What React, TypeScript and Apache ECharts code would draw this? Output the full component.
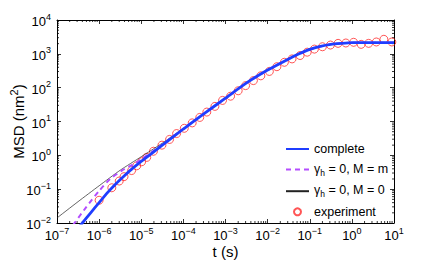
import { useEffect, useRef } from "react";
import * as echarts from "echarts";

// Experiment (red circles)
const expT = [1.0e-6, 2.0e-6, 3.0e-6, 3.9e-6, 5.9e-6, 7.8e-6, 1.02e-5, 1.35e-5, 1.95e-5, 3.1e-5, 4.7e-5, 6.9e-5, 1.05e-4, 1.62e-4, 2.45e-4, 3.6e-4, 5.6e-4, 8.5e-4, 1.32e-3, 2.0e-3, 3.0e-3, 4.6e-3, 6.9e-3, 0.011, 0.0166, 0.025, 0.038, 0.059, 0.087, 0.129, 0.2, 0.31, 0.47, 0.72, 1.1, 1.66, 2.5, 3.8, 5.75, 8.9];
const expMSD = [0.047, 0.11, 0.174, 0.234, 0.355, 0.49, 0.645, 0.87, 1.32, 2.0, 2.95, 4.4, 6.3, 9.1, 13.2, 19, 28, 42, 56, 81, 115, 162, 224, 302, 417, 562, 708, 891, 1120, 1380, 1620, 1820, 2040, 2090, 2190, 1905, 2040, 2240, 2690, 2240];

// Common long-time part of all three model curves
const tailT = [3.16e-4, 1e-3, 3.16e-3, 0.01, 0.0316, 0.056, 0.1, 0.178, 0.316, 0.56, 1, 3.16, 10];
const tailMSD = [17.4, 49, 138, 331, 708, 1000, 1350, 1660, 1905, 2040, 2140, 2140, 2140];

// complete (blue) short-time part
const completeT = [3.55e-7, 6.3e-7, 1e-6, 1.58e-6, 2.51e-6, 3.98e-6, 6.3e-6, 1e-5, 3.16e-5, 1e-4];
const completeMSD = [0.0083, 0.02, 0.04, 0.079, 0.145, 0.25, 0.42, 0.66, 2.0, 6.0];

// gamma_h = 0, M = m (purple dashed) short-time part
const massT = [2.4e-7, 5.0e-7, 1e-6, 1.82e-6, 3.39e-6, 6.3e-6, 1e-5, 3.16e-5, 1e-4];
const massMSD = [0.0087, 0.03, 0.089, 0.2, 0.347, 0.537, 0.76, 2.09, 6.17];

// gamma_h = 0, M = 0 (black thin) short-time part
const freeT = [1e-7, 3.16e-7, 1e-6, 3.16e-6, 1e-5, 3.16e-5, 1e-4];
const freeMSD = [0.0141, 0.0427, 0.126, 0.363, 0.91, 2.29, 6.3];

const minorMantissas = [2, 3, 4, 5, 6, 7, 8, 9];
const xDecades = [1e-7, 1e-6, 1e-5, 1e-4, 1e-3, 1e-2, 1e-1, 1];
const yDecades = [1e-2, 1e-1, 1, 10, 100, 1000];

const FONT = "Liberation Sans, Arial, Helvetica, sans-serif";
const BLUE = "#1f3dff";
const PURPLE = "#b44dff";
const RED = "#ff2a2a";

const pair = (t: number[], v: number[]) => t.map((x, i) => [x, v[i]]);

const expLabel = (v: number) => {
  const e = Math.round(Math.log10(v));
  return `{b|10}{e|${e < 0 ? "−" + -e : e}}`;
};

const labelRich = {
  b: { fontSize: 13, verticalAlign: "bottom", fontFamily: FONT, color: "#000" },
  e: { fontSize: 9, verticalAlign: "bottom", padding: [0, 0, 7, 0], fontFamily: FONT, color: "#000" },
};

const hideSym = { color: "rgba(0,0,0,0)", borderWidth: 0, opacity: 0 };

export default function App() {
  const ref = useRef<HTMLDivElement>(null);
  useEffect(() => {
    const chart = echarts.init(ref.current!, null, { renderer: "svg" });
    const xMinor = xDecades.flatMap((d) => minorMantissas.map((m) => [m * d, 1]));
    const yMinor = yDecades.flatMap((d) => minorMantissas.map((m) => [1e-3, m * d]));
    const tickStyle = { stroke: "#000", lineWidth: 0.8 };
    const axisCommon = {
      axisLine: { show: true, lineStyle: { color: "#000", width: 1 } },
      axisTick: { show: true, inside: true, length: 4, lineStyle: { color: "#000", width: 0.8 } },
      splitLine: { show: false },
    };
    const option: any = {
      animation: false,
      backgroundColor: "#fff",
      grid: { left: 57, right: 42, top: 20, bottom: 39, containLabel: false, outerBoundsMode: "none" },
      xAxis: [
        {
          type: "log", logBase: 10, min: 1e-7, max: 10, splitNumber: 8, position: "bottom",
          ...axisCommon,
          axisLabel: { formatter: expLabel, margin: 3, rich: labelRich, color: "#000", fontSize: 13 },
          name: "t (s)", nameLocation: "middle", nameGap: 21, nameMoveOverlap: false,
          nameTextStyle: { fontSize: 15, color: "#000", fontFamily: FONT, verticalAlign: "top" },
        },
        {
          type: "log", logBase: 10, min: 1e-7, max: 10, splitNumber: 8, position: "top",
          ...axisCommon, axisLabel: { show: false },
        },
      ],
      yAxis: [
        {
          type: "log", logBase: 10, min: 0.01, max: 1e4, splitNumber: 6, position: "left",
          ...axisCommon,
          axisLabel: { formatter: expLabel, margin: 6, rich: labelRich, color: "#000", fontSize: 13 },
          name: "{a|MSD (nm}{s|2}{a|)}", nameLocation: "middle", nameGap: 31, nameMoveOverlap: false,
          nameTextStyle: {
            color: "#000", fontFamily: FONT, fontSize: 15,
            rich: {
              a: { fontSize: 15, verticalAlign: "bottom", fontFamily: FONT, color: "#000" },
              s: { fontSize: 11, verticalAlign: "bottom", padding: [0, 0, 7, 0], fontFamily: FONT, color: "#000" },
            },
          },
        },
        {
          type: "log", logBase: 10, min: 0.01, max: 1e4, splitNumber: 6, position: "right",
          ...axisCommon, axisLabel: { show: false },
        },
      ],
      legend: {
        orient: "vertical", left: 285, top: 142.5, padding: 0, itemWidth: 23, itemHeight: 7, itemGap: 6.6,
        data: [
          { name: "complete", itemStyle: hideSym },
          { name: "γh = 0, M = m", itemStyle: hideSym },
          { name: "γh = 0, M = 0", itemStyle: hideSym },
          { name: "experiment" },
        ],
        formatter: (name: string) =>
          name.startsWith("γh") ? `{t|γ}{s|h}{t|${name.slice(2)}}` : `{t|${name}}`,
        textStyle: {
          color: "#000", fontSize: 12.5, fontFamily: FONT,
          rich: {
            t: { fontSize: 12.5, verticalAlign: "top", fontFamily: FONT, color: "#000" },
            s: { fontSize: 8.5, verticalAlign: "top", padding: [6, 0, 0, 0], fontFamily: FONT, color: "#000" },
          },
        },
      },
      series: [
        {
          type: "custom", name: "xminor", silent: true, clip: false, xAxisIndex: 0, yAxisIndex: 0,
          data: xMinor,
          renderItem: (params: any, api: any) => {
            const x = api.coord([api.value(0), 1])[0];
            const cs = params.coordSys;
            return {
              type: "group",
              children: [
                { type: "line", shape: { x1: x, y1: cs.y + cs.height, x2: x, y2: cs.y + cs.height - 2 }, style: tickStyle },
                { type: "line", shape: { x1: x, y1: cs.y, x2: x, y2: cs.y + 2 }, style: tickStyle },
              ],
            };
          },
        },
        {
          type: "custom", name: "yminor", silent: true, clip: false, xAxisIndex: 0, yAxisIndex: 0,
          data: yMinor,
          renderItem: (params: any, api: any) => {
            const y = api.coord([1e-3, api.value(1)])[1];
            const cs = params.coordSys;
            return {
              type: "group",
              children: [
                { type: "line", shape: { x1: cs.x, y1: y, x2: cs.x + 2, y2: y }, style: tickStyle },
                { type: "line", shape: { x1: cs.x + cs.width, y1: y, x2: cs.x + cs.width - 2, y2: y }, style: tickStyle },
              ],
            };
          },
        },
        {
          type: "line", name: "γh = 0, M = 0", symbol: "none", smooth: 0.2,
          data: pair(freeT.concat(tailT), freeMSD.concat(tailMSD)),
          lineStyle: { color: "#222", width: 0.7 }, itemStyle: { color: "#222" },
        },
        {
          type: "line", name: "γh = 0, M = m", symbol: "none", smooth: 0.2,
          data: pair(massT.concat(tailT), massMSD.concat(tailMSD)),
          lineStyle: { color: PURPLE, width: 2, type: [5, 4] }, itemStyle: { color: PURPLE },
        },
        {
          type: "line", name: "complete", symbol: "none", smooth: 0.2,
          data: pair(completeT.concat(tailT), completeMSD.concat(tailMSD)),
          lineStyle: { color: BLUE, width: 2.8 }, itemStyle: { color: BLUE },
        },
        {
          type: "scatter", name: "experiment", symbol: "circle", symbolSize: 8,
          data: pair(expT, expMSD),
          itemStyle: { color: "rgba(0,0,0,0)", borderColor: RED, borderWidth: 1 },
        },
      ],
    };
    chart.setOption(option);
    return () => chart.dispose();
  }, []);
  return <div ref={ref} style={{ position: "fixed", left: 0, top: 0, width: 436, height: 262 }} />;
}
